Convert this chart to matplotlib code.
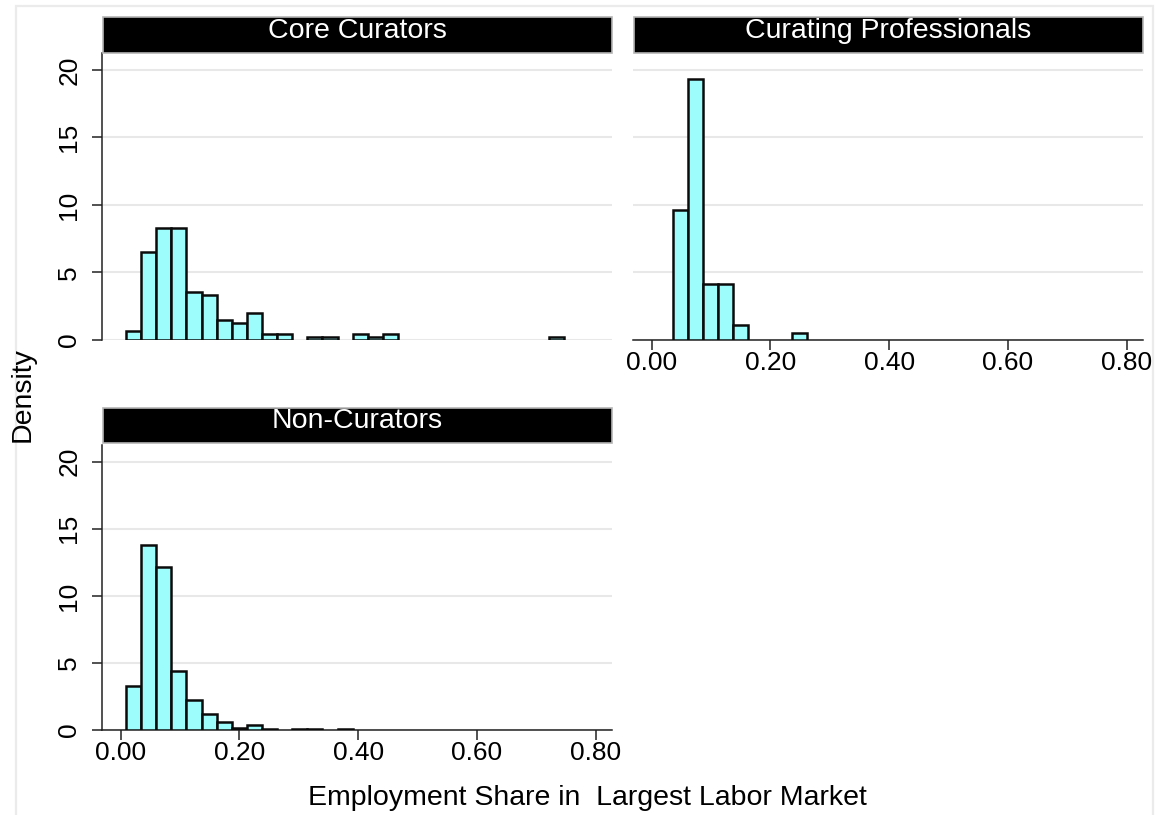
import matplotlib
matplotlib.use("Agg")
import matplotlib.pyplot as plt
from matplotlib.patches import Rectangle
import numpy as np

plt.rcParams['font.family'] = ['Liberation Sans', 'DejaVu Sans']

# Histogram densities per occupation group (one value per bin)
core_density = [0.69, 6.51, 8.32, 8.32, 3.59, 3.34, 1.51, 1.24, 2.00, 0.45,
                0.45, 0.00, 0.22, 0.22, 0.00, 0.45, 0.22, 0.45, 0.00, 0.00,
                0.00, 0.00, 0.00, 0.00, 0.00, 0.00, 0.00, 0.00, 0.22]
curating_density = [9.63, 19.33, 4.15, 4.15, 1.13, 0.00, 0.00, 0.00, 0.52]
noncurator_density = [3.27, 13.83, 12.17, 4.39, 2.21, 1.16, 0.62, 0.17, 0.37,
                      0.08, 0.00, 0.08, 0.08, 0.00, 0.08]

# Bin layout: first lower edge and bin width
core_bins = (0.0089, 0.02545)
curating_bins = (0.0363, 0.0251)
noncurator_bins = (0.0089, 0.02545)

panel_titles = ["Core Curators", "Curating Professionals", "Non-Curators"]
x_ticks = [0.0, 0.2, 0.4, 0.6, 0.8]
x_ticklabels = ["0.00", "0.20", "0.40", "0.60", "0.80"]
y_ticks = [0, 5, 10, 15, 20]
y_ticklabels = ["0", "5", "10", "15", "20"]

W, H = 1158, 815
fig = plt.figure(figsize=(W / 100, H / 100), dpi=100)
fig.patch.set_facecolor("white")

# outer graph-region frame
fig.add_artist(Rectangle((16 / W, -0.02), (1153 - 16) / W, 1.02 - 6 / H,
                         transform=fig.transFigure, fill=False,
                         edgecolor="#ebebeb", linewidth=1.6))

BAR_FACE = "#9dfdfd"
BAR_EDGE = "#0b0b0b"
GRID = "#e8e8e8"
AX_COLOR = "#222222"
TICK_FS = 19

def px_rect(x0, y0, x1, y1):
    """Figure rectangle from pixel coordinates (top-left origin)."""
    return [x0 / W, 1 - y1 / H, (x1 - x0) / W, (y1 - y0) / H]

def draw_panel(rect, strip_rect, title, dens, bins, show_x, show_y):
    ax = fig.add_axes(rect)
    start, width = bins
    dens = np.asarray(dens)
    lefts = start + width * np.arange(len(dens))
    mask = dens > 0
    ax.bar(lefts[mask], dens[mask], width=width, align="edge",
           color=BAR_FACE, edgecolor=BAR_EDGE, linewidth=1.8, zorder=3)
    ax.set_xlim(-0.0315, 0.8275)
    ax.set_ylim(0, 21.25)
    ax.set_yticks(y_ticks)
    ax.set_yticklabels(y_ticklabels, rotation=90, va="center", fontsize=TICK_FS)
    ax.set_xticks(x_ticks)
    ax.set_xticklabels(x_ticklabels, fontsize=TICK_FS)
    ax.set_axisbelow(True)
    ax.yaxis.grid(True, color=GRID, linewidth=1.5)
    ax.xaxis.grid(False)
    for s in ["top", "right"]:
        ax.spines[s].set_visible(False)
    ax.spines["left"].set_visible(show_y)
    ax.spines["bottom"].set_visible(show_x)
    ax.spines["left"].set_color(AX_COLOR)
    ax.spines["bottom"].set_color(AX_COLOR)
    ax.spines["left"].set_linewidth(1.1)
    ax.spines["bottom"].set_linewidth(1.1)
    ax.tick_params(axis="y", left=show_y, labelleft=show_y, length=7,
                   width=1.1, color=AX_COLOR, pad=8)
    ax.tick_params(axis="x", bottom=show_x, labelbottom=show_x, length=7,
                   width=1.1, color=AX_COLOR, pad=1)
    ax.patch.set_alpha(0)

    sax = fig.add_axes(strip_rect)
    sax.set_xlim(0, 1)
    sax.set_ylim(0, 1)
    sax.axis("off")
    sax.add_patch(Rectangle((0, 0), 1, 1, transform=sax.transAxes,
                            facecolor="black", edgecolor="#b5b5b5",
                            linewidth=1.2, clip_on=False))
    sax.text(0.5, 0.42, title, color="white", fontsize=20.5,
             ha="center", va="baseline", transform=sax.transAxes)
    return ax

draw_panel(px_rect(102, 53, 612, 340), px_rect(103, 17, 612, 52.5),
           panel_titles[0], core_density, core_bins, show_x=False, show_y=True)
draw_panel(px_rect(633, 53, 1143, 340), px_rect(634, 17, 1143, 52.5),
           panel_titles[1], curating_density, curating_bins, show_x=True, show_y=False)
draw_panel(px_rect(102, 445, 612, 730), px_rect(103, 407.5, 612, 443),
           panel_titles[2], noncurator_density, noncurator_bins, show_x=True, show_y=True)

fig.text(23 / W, 1 - 395 / H, "Density", rotation=90, ha="center", va="center",
         fontsize=20.5)
fig.text(587 / W, 1 - 798 / H, "Employment Share in  Largest Labor Market",
         ha="center", va="center", fontsize=20.5)

fig.savefig("out.png", dpi=100, facecolor="white")
